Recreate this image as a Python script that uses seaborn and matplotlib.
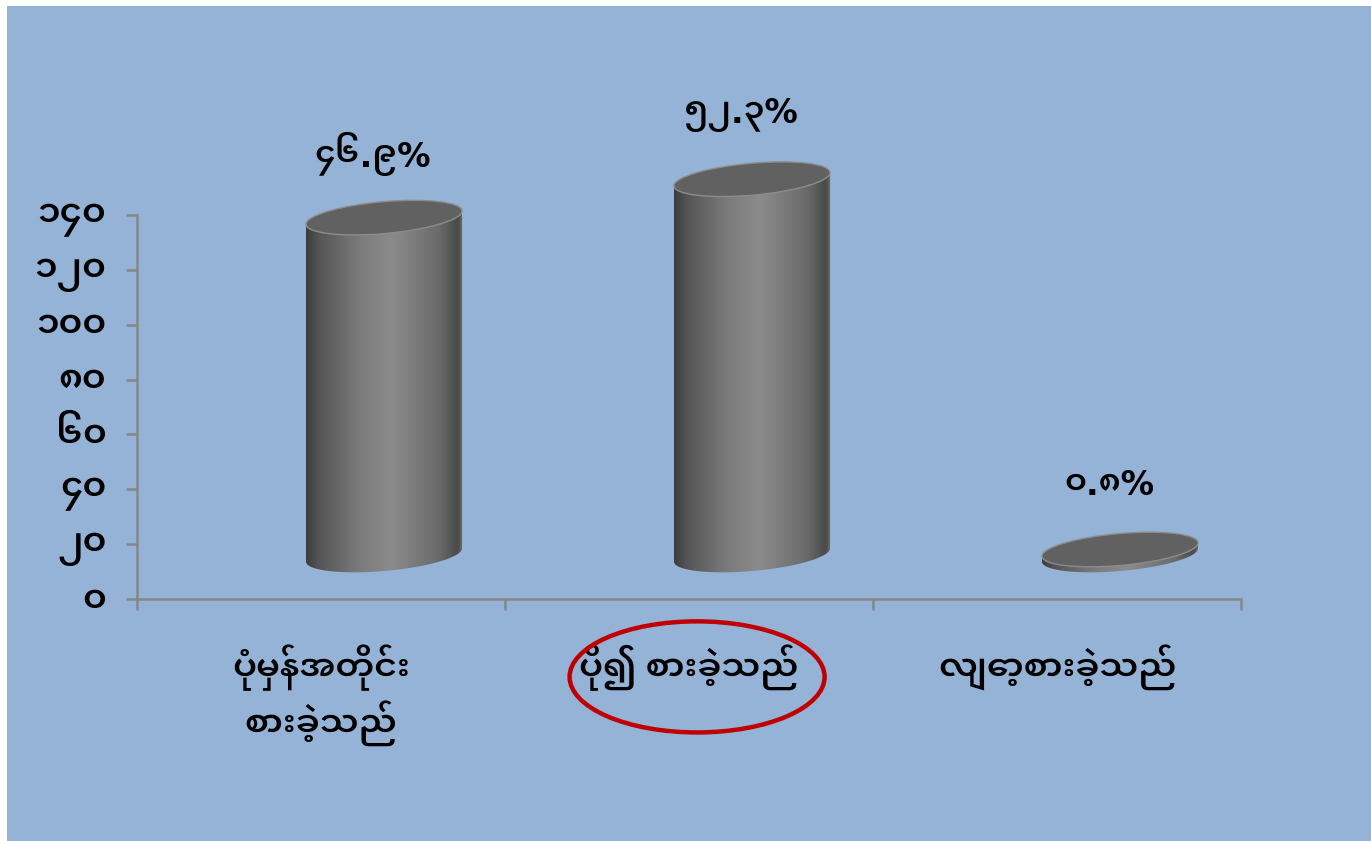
import numpy as np
import pandas as pd
import matplotlib
matplotlib.use("Agg")
import matplotlib.pyplot as plt
import matplotlib.patches as mpatches
import matplotlib.transforms as mtransforms
from matplotlib import font_manager as fm
from matplotlib.colors import LinearSegmentedColormap
from matplotlib.ticker import FixedLocator, FuncFormatter
import seaborn as sns

# ---- data -------------------------------------------------------------
categories = ["ပုံမှန်အတိုင်း\nစားခဲ့သည်", "ပို၍ စားခဲ့သည်", "လျော့စားခဲ့သည်"]
counts = [123, 137, 2]
y_ticks = [0, 20, 40, 60, 80, 100, 120, 140]
highlighted = "ပို၍ စားခဲ့သည်"

MM_DIGITS = str.maketrans("0123456789", "၀၁၂၃၄၅၆၇၈၉")


def mm_num(value):
    return str(value).translate(MM_DIGITS)


total = sum(counts)
pct_labels = [mm_num(f"{c / total * 100:.1f}") + "%" for c in counts]

# ---- style ------------------------------------------------------------
sns.set_theme(style="white")
installed = {f.name for f in fm.fontManager.ttflist}
mm_family = next((n for n in ("Noto Sans Myanmar UI", "Noto Sans Myanmar",
                              "Myanmar Sans Pro") if n in installed), "DejaVu Sans")
plt.rcParams["font.family"] = [mm_family, "DejaVu Sans"]
plt.rcParams["font.weight"] = 600

BG = "#95B3D7"
AXIS_GREY = "#868686"
W, H = 1371, 841
Y_TOP = y_ticks[-1]

# plot area: the value axis runs 0..140 between pixel rows 599 and 215;
# the axes box is taller so the cylinders are not clipped.
AX_LEFT, AX_RIGHT, AX_BOTTOM, AX_TOP, TICK_TOP = 137, 1241, 599, 40, 215
y_max = Y_TOP * (AX_BOTTOM - AX_TOP) / (AX_BOTTOM - TICK_TOP)

fig = plt.figure(figsize=(W / 100, H / 100), dpi=100, facecolor="white")
fig.patches.append(mpatches.Rectangle((7 / W, 0), 1 - 7 / W, 1 - 6 / H,
                                      transform=fig.transFigure,
                                      facecolor=BG, edgecolor="none", zorder=-10))
ax = fig.add_axes([AX_LEFT / W, (H - AX_BOTTOM) / H,
                   (AX_RIGHT - AX_LEFT) / W, (AX_BOTTOM - AX_TOP) / H])
ax.set_facecolor("none")

df = pd.DataFrame({"category": categories, "count": counts})
sns.barplot(data=df, x="category", y="count", ax=ax, width=0.424,
            color="#808080", errorbar=None)
bars = list(ax.patches)
for b in bars:
    b.set_visible(False)

ax.set_xlim(-0.5, 2.5)
ax.set_ylim(0, y_max)
ax.set_xlabel("")
ax.set_ylabel("")

# axes lines and ticks
for side in ("top", "right"):
    ax.spines[side].set_visible(False)
for side in ("left", "bottom"):
    ax.spines[side].set_color(AXIS_GREY)
    ax.spines[side].set_linewidth(1.8)
ax.spines["left"].set_bounds(0, Y_TOP)

ax.yaxis.set_major_locator(FixedLocator(y_ticks))
ax.yaxis.set_major_formatter(FuncFormatter(lambda v, _: mm_num(int(v))))
ax.tick_params(axis="y", which="major", direction="out", length=8, width=1.8,
               color=AXIS_GREY, labelsize=26, pad=14, labelcolor="black", left=True)

ax.xaxis.set_minor_locator(FixedLocator([-0.5, 0.5, 1.5, 2.5]))
ax.tick_params(axis="x", which="minor", direction="out", length=8, width=1.8,
               color=AXIS_GREY, bottom=True)
ax.tick_params(axis="x", which="major", length=0, labelsize=25, pad=33,
               labelcolor="black")
for t in ax.get_xticklabels():
    t.set_linespacing(1.25)

# ---- cylinders --------------------------------------------------------
DX, DY = 63, 44          # depth offset of the 3-D floor, pixels
SHEAR = 0.085            # tilt of the elliptical caps
CAP_PX = 32              # cap height, pixels

cyl_cmap = LinearSegmentedColormap.from_list(
    "cyl", [(0.0, "#3c3c3c"), (0.08, "#555555"), (0.35, "#7c7c7c"),
            (0.55, "#8b8b8b"), (0.85, "#6a6a6a"), (0.97, "#4a4a4a"),
            (1.0, "#6e6e6e")])
grad = np.linspace(0, 1, 256).reshape(1, -1)

py_per_unit = ax.transData.transform((0, 1))[1] - ax.transData.transform((0, 0))[1]
cap_h = CAP_PX / py_per_unit

for bar, label in zip(bars, pct_labels):
    x0, w, h = bar.get_x(), bar.get_width(), bar.get_height()
    cx = x0 + w / 2
    cx_disp = ax.transData.transform((cx, 0))[0] + DX
    shear = mtransforms.Affine2D(np.array([[1, 0, 0],
                                           [SHEAR, 1, -SHEAR * cx_disp],
                                           [0, 0, 1]]))
    T = ax.transData + mtransforms.Affine2D().translate(DX, DY) + shear

    t = np.linspace(np.pi, 2 * np.pi, 80)
    verts = np.column_stack([cx + w / 2 * np.cos(t), cap_h / 2 * np.sin(t)])
    verts = np.vstack([verts, [[x0 + w, h], [x0, h]]])
    body = mpatches.Polygon(verts, closed=True, transform=T,
                            facecolor="none", edgecolor="none")
    ax.add_patch(body)
    im = ax.imshow(grad, extent=(x0, x0 + w, -cap_h / 2, h), transform=T,
                   aspect="auto", cmap=cyl_cmap, interpolation="bilinear",
                   zorder=2)
    im.set_clip_path(body)

    cap = mpatches.Ellipse((cx, h), w, cap_h, transform=T, facecolor="#616161",
                           edgecolor="#8c8c8c", linewidth=1.0, zorder=3)
    ax.add_patch(cap)

    ax.annotate(label, xy=(cx, h), xycoords=T, xytext=(-8, 46),
                textcoords="offset points", ha="center", va="center",
                fontsize=24, color="black", annotation_clip=False)

ax.set_xlim(-0.5, 2.5)
ax.set_ylim(0, y_max)

# highlight ring around one category label
i = categories.index(highlighted)
ring = mpatches.Ellipse((i + 0.022, -28.4), 0.693, 40.5, facecolor="none",
                        edgecolor="#C00000", linewidth=3.2, clip_on=False, zorder=5)
ax.add_patch(ring)

fig.savefig("out.png", dpi=100, facecolor=fig.get_facecolor())
